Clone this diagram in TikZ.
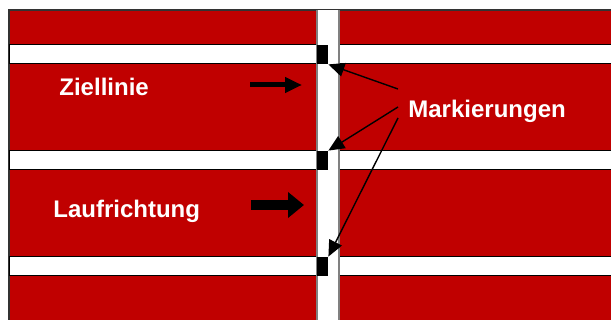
\documentclass[tikz,border=0pt]{standalone}
\usepackage{fontspec}
\setmainfont{Liberation Sans}
\usetikzlibrary{positioning,arrows.meta}
\definecolor{bahnrot}{RGB}{192,0,0}

\begin{document}
\begin{tikzpicture}[x=0.5pt,y=-0.5pt,
        lbl/.style={text=white, font=\bfseries\fontsize{12}{14}\selectfont, inner sep=0pt, anchor=base west},
        marker/.style={fill=black, inner sep=0pt, minimum width=5.5pt, minimum height=9.5pt},
        zeiger/.style={line width=0.7pt, -{Triangle[length=8pt,width=7pt]}}]
        \useasboundingbox (0,0) rectangle (611,320);
        % bahn
        \fill[bahnrot] (9,10) rectangle (611,320);
        \draw[line width=0.6pt, black!80] (9,320) |- (611,10);
        \foreach \y in {45,151,257}
            \draw[fill=white, line width=0.5pt] (9,\y) rectangle (612,\y+19);
        \fill[white] (317,10) rectangle (339,320);
        \draw[gray, line width=0.6pt] (317,10) -- (317,320) (339,10) -- (339,320);
        % markierungen
        \node[marker] (m1) at (322.5,54.5) {};
        \node[marker] (m2) at (322.5,160.5) {};
        \node[marker] (m3) at (322.5,266.5) {};
        % texte
        \node[lbl] (ziel) at (59,96) {Ziellinie};
        \node[lbl] (lauf) at (53,217.5) {Laufrichtung};
        \node[lbl] (mark) at (408,118) {Markierungen};
        % pfeile
        \coordinate (z0) at (250,85);
        \coordinate (z1) at (302,85);
        \draw[line width=2.5pt, -{Triangle[length=8.5pt,width=7.5pt]}] (z0) -- (z1);
        \coordinate (l0) at (251,205);
        \coordinate (l1) at (304,205);
        \draw[line width=5pt, -{Triangle[length=8pt,width=12.5pt]}] (l0) -- (l1);
        \coordinate (s1) at (398,89);
        \coordinate (s2) at (398,107);
        \coordinate (s3) at (398,118);
        \draw[zeiger] (s1) -- (m1.south east);
        \draw[zeiger] (s2) -- (m2.north east);
        \draw[zeiger] (s3) -- (m3.north east);
\end{tikzpicture}
\end{document}
